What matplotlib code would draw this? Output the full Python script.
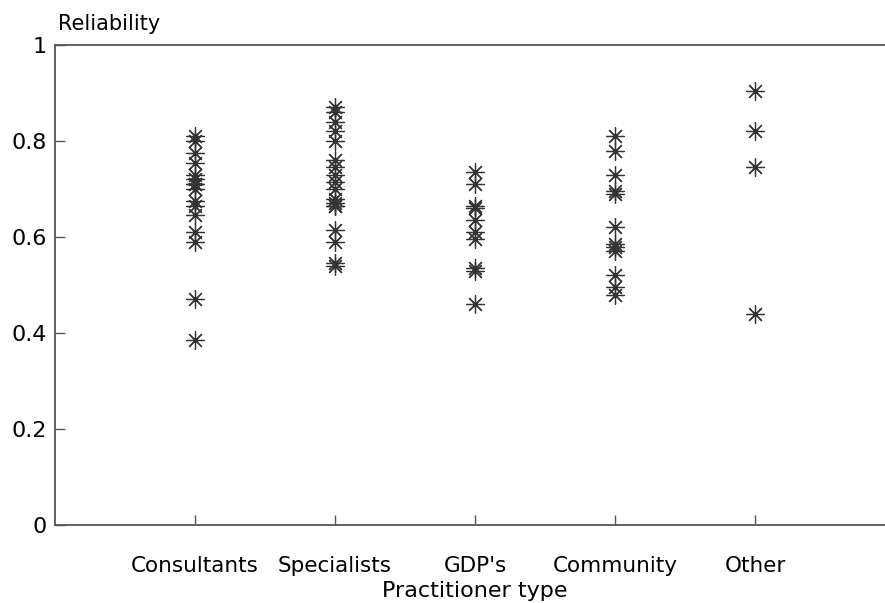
import numpy as np
import matplotlib
matplotlib.use("Agg")
import matplotlib.pyplot as plt

# Practitioner groups and reliability readings
categories = ["Consultants", "Specialists", "GDP's", "Community", "Other"]

consultants = [0.81, 0.80, 0.775, 0.755, 0.73, 0.72, 0.71, 0.71, 0.70,
               0.675, 0.665, 0.645, 0.61, 0.59, 0.47, 0.385]
specialists = [0.87, 0.86, 0.84, 0.82, 0.80, 0.76, 0.745, 0.73, 0.715,
               0.70, 0.68, 0.67, 0.665, 0.665, 0.615, 0.59, 0.545, 0.54]
gdps = [0.735, 0.71, 0.665, 0.66, 0.635, 0.61, 0.595, 0.535, 0.53, 0.46]
community = [0.81, 0.78, 0.73, 0.695, 0.69, 0.62, 0.585, 0.58, 0.57,
             0.52, 0.495, 0.48]
other = [0.905, 0.82, 0.745, 0.44]

groups = [consultants, specialists, gdps, community, other]

y_ticks = [0, 0.2, 0.4, 0.6, 0.8, 1.0]
y_tick_labels = ["0", "0.2", "0.4", "0.6", "0.8", "1"]


def main():
    plt.rcParams['font.family'] = ['DejaVu Sans']
    fig = plt.figure(figsize=(8.85, 6.03), dpi=100)
    ax = fig.add_axes([55 / 885, 78 / 603, 840 / 885, 480 / 603])

    for pos, vals in enumerate(groups, start=1):
        ax.plot(np.full(len(vals), pos), vals, linestyle='none',
                marker=(8, 2, 0), markersize=13, markeredgewidth=0.9,
                color='#333333')

    ax.set_xlim(0, 6)
    ax.set_ylim(0, 1)

    ax.set_xticks(range(1, len(categories) + 1))
    ax.set_xticklabels(categories, fontsize=15.5)
    ax.set_yticks(y_ticks)
    ax.set_yticklabels(y_tick_labels, fontsize=16)

    ax.tick_params(axis='x', direction='in', length=7, width=1,
                   color='#555555', pad=22)
    ax.tick_params(axis='y', direction='in', length=7, width=1,
                   color='#555555', pad=6)

    for side in ['left', 'bottom', 'top']:
        ax.spines[side].set_color('#555555')
        ax.spines[side].set_linewidth(1.3)
    ax.spines['right'].set_visible(False)

    ax.set_xlabel("Practitioner type", fontsize=16, labelpad=4)
    fig.text(58 / 885, 1 - 30 / 603, "Reliability", fontsize=15,
             ha='left', va='baseline')

    fig.savefig("out.png", dpi=100)


if __name__ == '__main__':
    main()
